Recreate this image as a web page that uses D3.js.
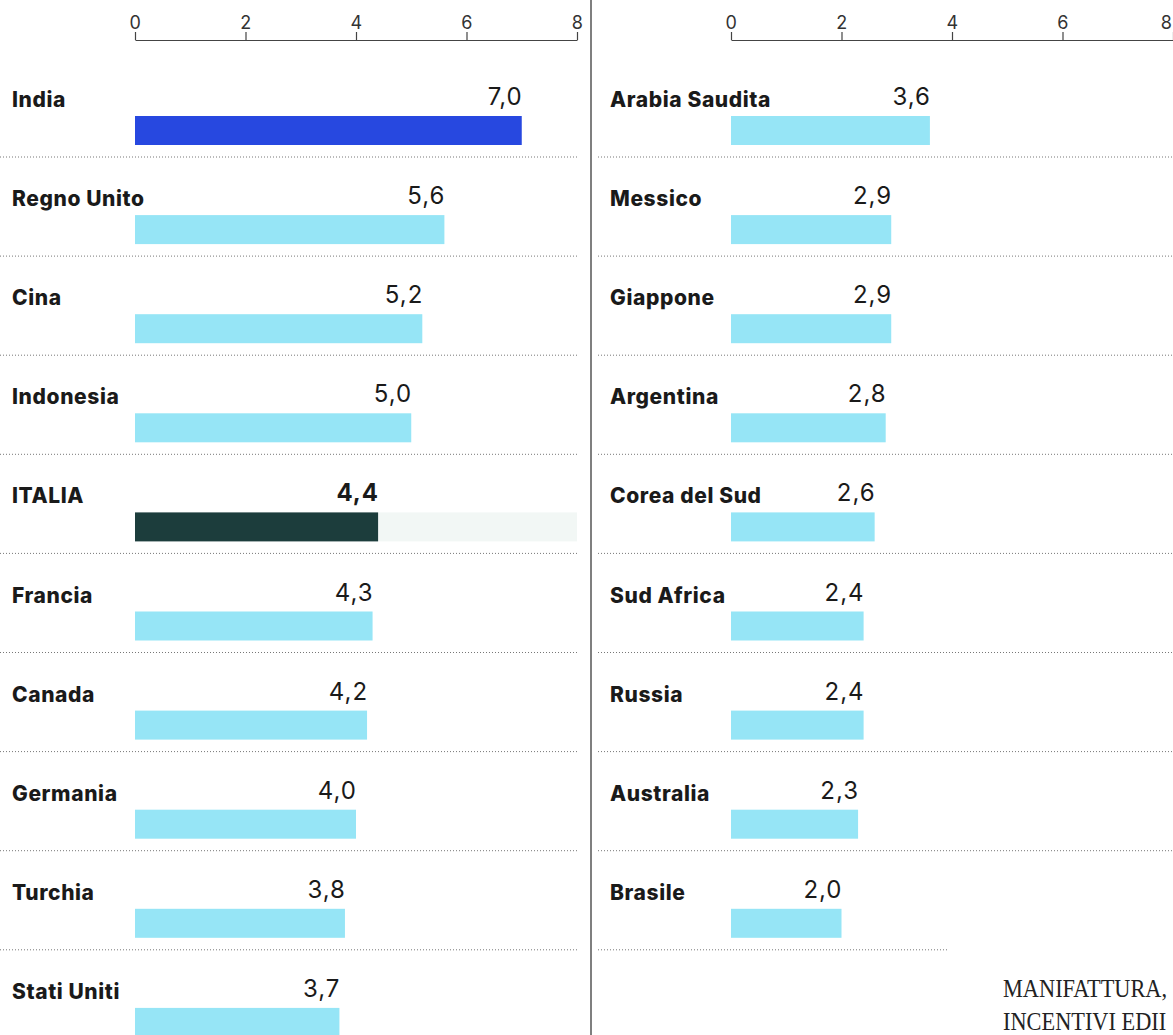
<!DOCTYPE html>
<html><head><meta charset="utf-8">
<script src="https://cdn.jsdelivr.net/npm/d3@7"></script>
<style>
html,body{margin:0;padding:0;background:#fff;}
svg{display:block;}
</style></head>
<body>
<svg id="c" width="1173" height="1035"></svg>
<script>
const leftCountries = ["India","Regno Unito","Cina","Indonesia","ITALIA","Francia","Canada","Germania","Turchia","Stati Uniti"];
const leftValues = [7.0,5.6,5.2,5.0,4.4,4.3,4.2,4.0,3.8,3.7];
const rightCountries = ["Arabia Saudita","Messico","Giappone","Argentina","Corea del Sud","Sud Africa","Russia","Australia","Brasile"];
const rightValues = [3.6,2.9,2.9,2.8,2.6,2.4,2.4,2.3,2.0];
const tickValues = [0,2,4,6,8];
const highlightBlue = "India";
const highlightDark = "ITALIA";
const sideText = ["MANIFATTURA,","INCENTIVI EDII"];

const svg = d3.select("#c");
const W = 1173, H = 1035;
const fmt = v => d3.format(".1f")(v).replace(".", ",");

const rowIdx = d3.range(10);
const y = d3.scaleBand().domain(rowIdx).range([58, 58 + 99.1*10]).paddingInner(0);

function panel(cats, vals, xr, sepX0, sepX1, labelX, clipLast) {
  const x = d3.scaleLinear().domain([0,8]).range(xr);
  const g = svg.append("g");
  const ax = g.append("g").attr("transform","translate(0,40)")
    .call(d3.axisTop(x).tickValues(tickValues).tickSize(8).tickSizeOuter(0).tickPadding(3).tickFormat(d3.format("d")));
  ax.select(".domain").attr("stroke","#444").attr("stroke-width",1.2);
  ax.selectAll(".tick line").attr("stroke","#444").attr("stroke-width",1.2);
  ax.selectAll(".tick text").attr("font-family","Inter, 'Open Sans', sans-serif")
    .attr("font-size",18).attr("fill","#333").attr("letter-spacing","0.5");
  if (clipLast) {
    ax.selectAll(".tick").filter(d=>d===8).select("text").attr("text-anchor","end").attr("dx",-1);
  }

  const data = cats.map((c,i)=>({c, v:vals[i], i}));
  const row = g.selectAll("g.row").data(data).join("g").attr("class","row")
    .attr("transform", d=>`translate(0,${y(d.i)})`);

  row.filter(d=>d.c===highlightDark).append("rect")
    .attr("x", d=>x(d.v)).attr("y",58).attr("width", d=>x(8)-x(d.v)).attr("height",29)
    .attr("fill","#f2f7f5");

  row.append("rect")
    .attr("x", x(0)).attr("y", 58)
    .attr("width", d=>x(d.v)-x(0)).attr("height", 29)
    .attr("fill", d=> d.c===highlightBlue ? "#2748e0" : d.c===highlightDark ? "#1c3d3c" : "#96e5f6");

  row.append("text").attr("x", labelX).attr("y", 49)
    .attr("font-family","Inter, 'Roboto', sans-serif").attr("font-weight",800)
    .attr("font-size",21).attr("fill","#1a1a1a").attr("letter-spacing","0.6")
    .text(d=>d.c);

  row.append("text").attr("x", d=>x(d.v)+1).attr("y", 47).attr("text-anchor","end")
    .attr("font-family","Inter, 'Open Sans', sans-serif")
    .attr("font-weight", d=>d.c===highlightDark?700:400)
    .attr("font-size",24).attr("fill","#1a1a1a").attr("letter-spacing","1")
    .text(d=>fmt(d.v));

  row.filter(d=>d.i < 9).append("line")
    .attr("x1", sepX0).attr("x2", d => (cats.length===9 && d.i===8) ? 948 : sepX1)
    .attr("y1", 99).attr("y2", 99)
    .attr("stroke","#777").attr("stroke-width",1).attr("stroke-dasharray","1,2");
  return x;
}

panel(leftCountries, leftValues, [135,577], 0, 579, 12, false);
panel(rightCountries, rightValues, [731,1173], 598, 1173, 610, true);

svg.append("line").attr("x1",591).attr("x2",591).attr("y1",0).attr("y2",H)
  .attr("stroke","#555").attr("stroke-width",1.5);

svg.selectAll("g.side").data(sideText).join("g").attr("class","side")
  .attr("transform",(d,i)=>`translate(1003,${997 + i*33}) scale(0.86,1)`)
  .append("text").attr("x",0).attr("y",0)
  .attr("font-family","'Liberation Serif', 'DejaVu Serif', serif")
  .attr("font-size",26).attr("fill","#222")
  .text(d=>d);
</script>
</body></html>
